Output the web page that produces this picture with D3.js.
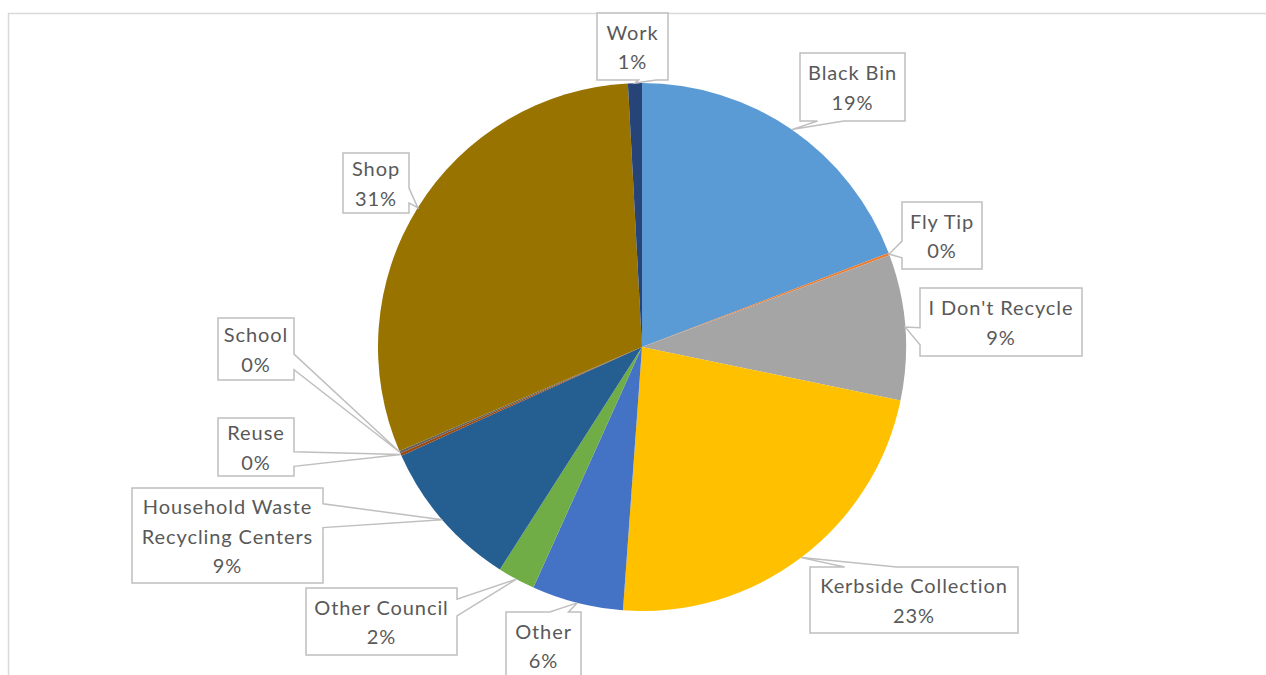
<!DOCTYPE html>
<html>
<head>
<meta charset="utf-8">
<script src="https://cdn.jsdelivr.net/npm/d3@7/dist/d3.min.js"></script>
<style>
  html, body { margin: 0; padding: 0; background: #fff; }
  svg { display: block; }
  text { font-family: Lato, "Noto Sans", sans-serif; fill: #595959; }
</style>
</head>
<body>
<svg id="chart" width="1266" height="675"></svg>
<script>
// Where recyclables end up — share of responses
const categories = ["Black Bin", "Fly Tip", "I Don't Recycle", "Kerbside Collection", "Other",
  "Other Council", "Household Waste Recycling Centers", "Reuse", "School", "Shop", "Work"];
const values = [19.2, 0.15, 8.9, 22.9, 5.6, 2.3, 9.2, 0.15, 0.15, 30.6, 0.85];
const colors = ["#5B9BD5", "#ED7D31", "#A5A5A5", "#FFC000", "#4472C4",
  "#70AD47", "#255E91", "#9E480E", "#636363", "#997300", "#264478"];
// label text lines (category name may wrap)
const labelLines = [["Black Bin"], ["Fly Tip"], ["I Don't Recycle"], ["Kerbside Collection"], ["Other"],
  ["Other Council"], ["Household Waste", "Recycling Centers"], ["Reuse"], ["School"], ["Shop"], ["Work"]];
// callout box placement: [left, top, width, height]
const boxes = [
  [800, 53, 105, 68],
  [902, 202, 80, 67],
  [920, 288, 162, 68],
  [810, 567, 208, 66],
  [506, 612, 75, 67],
  [306, 588, 151, 67],
  [132, 488, 191, 95],
  [218, 418, 76, 58],
  [218, 318, 76, 62],
  [343, 153, 66, 60],
  [597, 13, 71, 67]
];

const svg = d3.select("#chart");
const cx = 642, cy = 347, R = 264;

// chart area border
svg.append("rect")
  .attr("x", 8.5).attr("y", 13.5)
  .attr("width", 1300).attr("height", 700)
  .attr("fill", "none").attr("stroke", "#D9D9D9").attr("stroke-width", 1.5);

const total = d3.sum(values);
const data = categories.map((c, i) => ({ name: c, value: values[i], color: colors[i], lines: labelLines[i], box: boxes[i] }));

const pie = d3.pie().sort(null).value(d => d.value);
const arcs = pie(data);
const arc = d3.arc().innerRadius(0).outerRadius(R);
const edge = d3.arc().innerRadius(R).outerRadius(R);

const g = svg.append("g").attr("transform", `translate(${cx},${cy})`);
g.selectAll("path.slice")
  .data(arcs)
  .join("path")
  .attr("class", "slice")
  .attr("d", arc)
  .attr("fill", d => d.data.color);

// rectangular callout with a wedge pointing at the slice edge
function calloutPath(l, t, w, h, tx, ty) {
  const r = l + w, b = t + h;
  const dx = tx - (l + w / 2), dy = ty - (t + h / 2);
  const dz = Math.abs(dy) - Math.abs(dx * h / w);
  const x1 = l + w * (dx > 0 ? 7 : 2) / 12, x2 = l + w * (dx > 0 ? 10 : 5) / 12;
  const y1 = t + h * (dy > 0 ? 7 : 2) / 12, y2 = t + h * (dy > 0 ? 10 : 5) / 12;
  const p = d3.path();
  p.moveTo(l, t);
  if (dz > 0 && dy < 0) { p.lineTo(x1, t); p.lineTo(tx, ty); p.lineTo(x2, t); }
  p.lineTo(r, t);
  if (dz <= 0 && dx > 0) { p.lineTo(r, y1); p.lineTo(tx, ty); p.lineTo(r, y2); }
  p.lineTo(r, b);
  if (dz > 0 && dy > 0) { p.lineTo(x2, b); p.lineTo(tx, ty); p.lineTo(x1, b); }
  p.lineTo(l, b);
  if (dz <= 0 && dx < 0) { p.lineTo(l, y2); p.lineTo(tx, ty); p.lineTo(l, y1); }
  p.closePath();
  return p.toString();
}

const labels = svg.append("g").selectAll("g.label")
  .data(arcs)
  .join("g")
  .attr("class", "label");

labels.append("path")
  .attr("d", d => {
    const [ex, ey] = edge.centroid(d);
    const [l, t, w, h] = d.data.box;
    return calloutPath(l, t, w, h, cx + ex, cy + ey);
  })
  .attr("fill", "#fff")
  .attr("stroke", "#BFBFBF")
  .attr("stroke-width", 1.5)
  .attr("stroke-linejoin", "miter");

const lineH = 29.5;
labels.each(function(d) {
  const [l, t, w, h] = d.data.box;
  const lines = d.data.lines.concat([Math.round(d.data.value / total * 100) + "%"]);
  const mid = t + h / 2 + 1;
  const y0 = mid - (lines.length - 1) * lineH / 2;
  const txt = d3.select(this).append("text")
    .attr("text-anchor", "middle")
    .attr("font-size", 20)
    .attr("letter-spacing", "0.9px");
  lines.forEach((s, k) => {
    txt.append("tspan")
      .attr("x", l + w / 2)
      .attr("y", y0 + k * lineH)
      .attr("dy", "0.35em")
      .text(s);
  });
});
</script>
</body>
</html>
